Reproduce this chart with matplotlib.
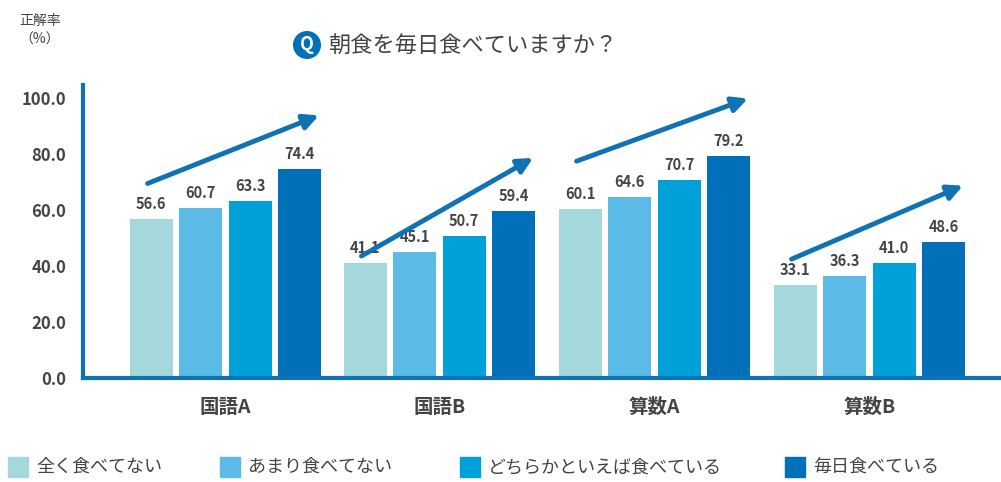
import matplotlib
matplotlib.use("Agg")
import matplotlib.pyplot as plt
from matplotlib.patches import Rectangle

plt.rcParams["font.family"] = "Noto Sans CJK JP"

categories = ["国語A", "国語B", "算数A", "算数B"]
series_names = ["全く食べてない", "あまり食べてない", "どちらかといえば食べている", "毎日食べている"]
values = [
    [56.6, 41.1, 60.1, 33.1],
    [60.7, 45.1, 64.6, 36.3],
    [63.3, 50.7, 70.7, 41.0],
    [74.4, 59.4, 79.2, 48.6],
]
yticks = [0, 20, 40, 60, 80, 100]
ytick_labels = ["0.0", "20.0", "40.0", "60.0", "80.0", "100.0"]
colors = ["#a5d8dd", "#5bbbe6", "#00a1d9", "#0070b8"]
axis_color = "#0e72b4"
text_color = "#444444"
# arrow (start, end) y-values per group
arrow_y = [(69, 94), (43, 79), (77, 100), (42, 69)]

fig = plt.figure(figsize=(10.01, 4.82), dpi=100)
ax = fig.add_axes([83/1001, 104/482, 1 - 83/1001, 293/482])
ax.set_xlim(83, 1001)
ax.set_ylim(0, 104.5)

group_start = [151, 365, 580, 795]
step = 49.5
bw = 43
for s in range(4):
    for g in range(4):
        x = group_start[g] + s*step
        v = values[s][g]
        ax.bar(x, v, width=bw, color=colors[s], zorder=2)
        ax.text(x, v + 2.5, f"{v:.1f}", ha="center", va="bottom",
                fontsize=10.5, fontweight="bold", color=text_color)
for g in range(4):
    x0 = group_start[g] - 6
    x1 = group_start[g] + 3*step + 22
    ax.annotate("", xy=(x1, arrow_y[g][1]), xytext=(x0, arrow_y[g][0]),
                arrowprops=dict(arrowstyle="-|>,head_length=0.9,head_width=0.45",
                                color=axis_color, lw=3.5), zorder=3)
    ax.text(group_start[g] + 1.5*step, -7, categories[g], ha="center", va="top",
            fontsize=14, fontweight="bold", color=text_color)

ax.set_yticks(yticks)
ax.set_yticklabels(ytick_labels, fontsize=12, fontweight="bold", color=text_color)
ax.set_xticks([])
ax.tick_params(axis="y", length=0, pad=12)
for sp in ["top", "right"]:
    ax.spines[sp].set_visible(False)
for sp in ["left", "bottom"]:
    ax.spines[sp].set_color(axis_color)
    ax.spines[sp].set_linewidth(3)

fig.text(40/1001, 1 - 30/482, "正解率\n（%）", ha="center", va="center",
         fontsize=10, color=text_color, linespacing=1.4)
fig.patches.append(plt.Circle((307/1001, 1 - 45/482), 0.0, transform=fig.transFigure))
fig.text(307/1001, 1 - 45/482, "Q", ha="center", va="center", fontsize=13,
         color="white", fontweight="bold",
         bbox=dict(boxstyle="circle,pad=0.25", fc="#0070b8", ec="none"))
fig.text(328/1001, 1 - 45/482, "朝食を毎日食べていますか？", ha="left", va="center",
         fontsize=16, color=text_color)

lx = [8, 220, 460, 785]
for i, name in enumerate(series_names):
    fig.patches.append(Rectangle((lx[i]/1001, 1 - 477/482), 20/1001, 20/482,
                                 transform=fig.transFigure, color=colors[i]))
    fig.text((lx[i] + 28)/1001, 1 - 467/482, name, ha="left", va="center",
             fontsize=13, color=text_color)

fig.savefig("out.png", dpi=100)
